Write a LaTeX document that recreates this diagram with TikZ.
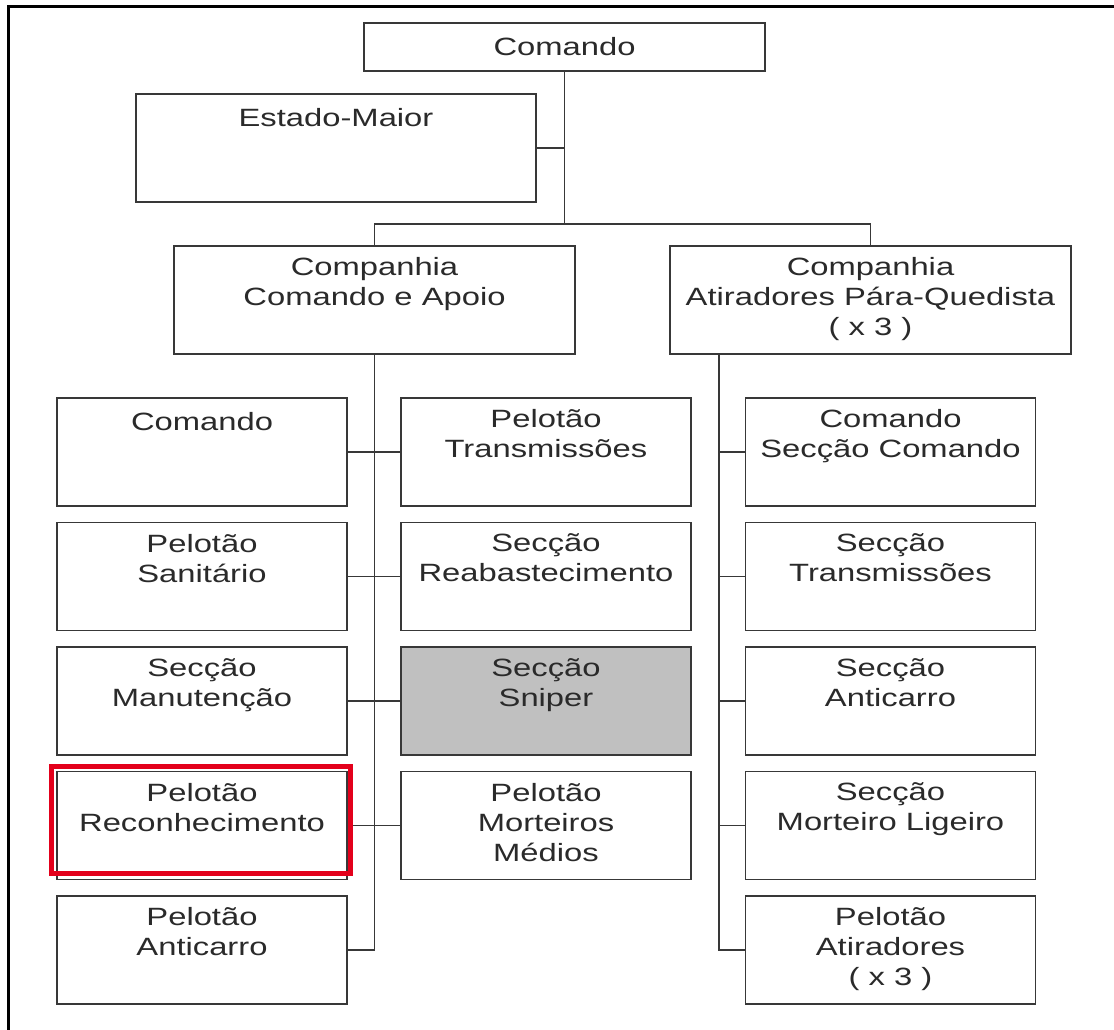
\documentclass[tikz,border=0pt]{standalone}
\usepackage{fontspec}
\setmainfont{Liberation Sans}[FakeStretch=1.31]
\usetikzlibrary{calc}
\definecolor{ink}{HTML}{383838}
\definecolor{txt}{HTML}{2A2A2A}
\definecolor{shade}{HTML}{C0C0C0}
\definecolor{hilite}{HTML}{E3001B}
\begin{document}
\begin{tikzpicture}[x=0.5pt,y=-0.5pt,
  txtfont/.style={text=txt, font=\fontsize{12.5pt}{15pt}\selectfont},
  unitbox/.style={draw=ink, line width=0.9pt, rectangle, inner sep=0pt, fill=white},
  wide/.style={unitbox, minimum width=200.5pt, minimum height=54pt},
  colbox/.style={unitbox, minimum width=145pt, minimum height=54pt},
  caption/.style={txtfont, anchor=north, inner sep=0pt, yshift=-6pt,
    align=center, execute at begin node=\strut},
  link/.style={draw=ink, line width=0.9pt},
  frame/.style={draw=black, line width=1.5pt}]
\path[use as bounding box, clip] (0,0) rectangle (1114,1029);

% outer frame (only its top and left sides fall inside the page)
\draw[frame] (8.5,1100) |- (1200,6);

% headquarters level
\node[unitbox, txtfont, minimum width=200.5pt, minimum height=24pt] (cmd) at (564.5,47) {Comando};
\node[wide, minimum width=200pt, label={[caption]north:Estado-Maior}] (em) at (336,148) {};

% companies
\node[wide, label={[caption]north:{Companhia\\Comando e Apoio}}] (cca) at (374.5,300) {};
\node[wide, label={[caption]north:{Companhia\\Atiradores Pára-Quedista\\( x 3 )}}] (cap) at (870.5,300) {};

% Companhia Comando e Apoio: left column
\node[colbox, label={[caption]north:Comando}] (l1) at (202,452) {};
\node[colbox, label={[caption]north:{Pelotão\\Sanitário}}] (l2) at (202,576.5) {};
\node[colbox, label={[caption]north:{Secção\\Manutenção}}] (l3) at (202,701) {};
\node[colbox, label={[caption]north:{Pelotão\\Reconhecimento}}] (l4) at (202,825.5) {};
\node[colbox, label={[caption]north:{Pelotão\\Anticarro}}] (l5) at (202,950) {};

% Companhia Comando e Apoio: middle column
\node[colbox, label={[caption]north:{Pelotão\\Transmissões}}] (m1) at (546,452) {};
\node[colbox, label={[caption]north:{Secção\\Reabastecimento}}] (m2) at (546,576.5) {};
\node[colbox, fill=shade, label={[caption]north:{Secção\\Sniper}}] (m3) at (546,701) {};
\node[colbox, label={[caption]north:{Pelotão\\Morteiros\\Médios}}] (m4) at (546,825.5) {};

% Companhia Atiradores: right column
\node[colbox, label={[caption]north:{Comando\\Secção Comando}}] (r1) at (890.5,452) {};
\node[colbox, label={[caption]north:{Secção\\Transmissões}}] (r2) at (890.5,576.5) {};
\node[colbox, label={[caption]north:{Secção\\Anticarro}}] (r3) at (890.5,701) {};
\node[colbox, label={[caption]north:{Secção\\Morteiro Ligeiro}}] (r4) at (890.5,825.5) {};
\node[colbox, label={[caption]north:{Pelotão\\Atiradores\\( x 3 )}}] (r5) at (890.5,950) {};

% connectors: headquarters
\coordinate (hub) at (cmd.south |- 0,224);
\draw[link] (cmd.south) -- (hub);
\draw[link] (em.east) -- (em.east -| cmd.south);
\draw[link] (cca.north) -- (cca.north |- hub) -| (cap.north);

% connectors: Companhia Comando e Apoio
\draw[link] (cca.south) |- (l5.east);
\foreach \i in {1,2,3,4} \draw[link] (l\i.east) -- (m\i.west);

% connectors: Companhia Atiradores
\path (cap.south) ++(-151.5,0) coordinate (rtop);
\draw[link] (rtop) |- (r5.west);
\foreach \i in {1,2,3,4} \draw[link] (r\i.west) -- (r\i.west -| rtop);

% highlight around Pelotão Reconhecimento
\draw[draw=hilite, line width=2.5pt] ($(l4.north west)+(-4.5,-4)$) rectangle ($(l4.south east)+(2.5,-7)$);
\end{tikzpicture}
\end{document}
